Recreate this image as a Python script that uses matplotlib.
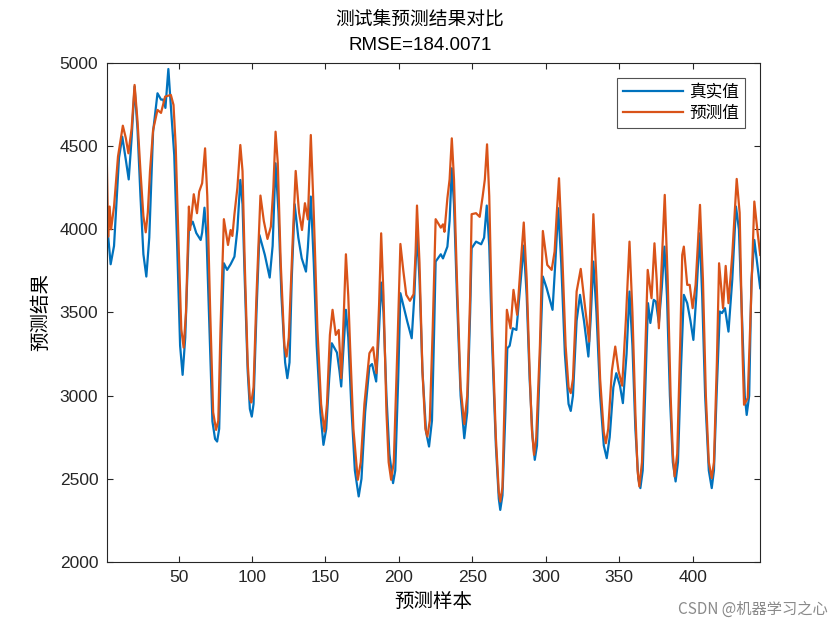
import matplotlib
matplotlib.use("Agg")
import matplotlib.pyplot as plt
import numpy as np

plt.rcParams['font.family'] = ['Noto Sans CJK SC', 'DejaVu Sans']

# 真实值 (sample index, value)
true_x = [1, 3.7, 6, 9.4, 11.6, 14, 16, 18, 20, 22, 24, 26, 28, 30, 32.6, 35.6, 38, 39.5, 41, 43,
          45, 47, 49, 51, 52.7, 54.5, 57, 59.6, 62, 65, 66, 67.6, 69, 71, 73, 74.8, 76.2, 77.6, 79,
          80.8, 83, 85.4, 88, 90, 92, 93.5, 95, 97, 98.5, 99.8, 101, 103, 105, 108.7, 112, 114, 116,
          118, 120, 122.5, 124, 125.5, 127, 129, 131.5, 133.8, 136.7, 138, 140, 142, 144, 146.5,
          148.6, 150.5, 152.5, 154.3, 157.8, 159.5, 160.7, 162, 163.9, 165.5, 167.5, 170, 172.6,
          174.5, 177, 179.9, 181.7, 184.5, 186.5, 187.9, 189.5, 191.5, 193.5, 196, 197.5, 199.5,
          201, 205.7, 208.7, 210.5, 212.3, 214, 216, 218.5, 220.5, 222.5, 224, 225, 228.5, 230,
          233, 234.5, 236, 237.5, 239.5, 242, 244.5, 246.5, 248.5, 249.5, 252.5, 256, 258, 259.8,
          261.5, 263.5, 266, 268, 269, 270.5, 272.5, 273.8, 275.4, 277.6, 280, 282.5, 285, 287,
          289, 291, 292.5, 294, 296, 298, 300.6, 304.6, 306.5, 308.5, 310.5, 313, 315.5, 317,
          318.5, 321, 323.3, 326, 329, 330.5, 332.4, 334.5, 337, 339.5, 341.5, 343.5, 346, 348,
          350.5, 352.5, 355, 357, 359, 361, 363, 364.4, 366, 368, 369.6, 371.2, 373.5, 375, 377,
          379, 380.8, 382.5, 384.5, 386.5, 388.4, 390, 392, 394, 396.3, 398.5, 400.5, 402.5,
          404.8, 406.5, 408.5, 411, 413, 414.5, 416.5, 418.5, 420, 422, 424.4, 427, 429.5, 431.5,
          433.5, 435.5, 436.8, 438.5, 440, 442, 446]
true_y = [4060, 3790, 3900, 4430, 4557, 4420, 4300, 4550, 4858, 4600, 4200, 3850, 3716, 3950,
          4587, 4818, 4780, 4780, 4730, 4964, 4700, 4447, 3900, 3300, 3125, 3350, 4008, 4046,
          3978, 3936, 3980, 4130, 3950, 3400, 2845, 2740, 2724, 2800, 3300, 3796, 3756, 3790,
          3836, 4000, 4297, 4150, 3700, 3150, 2920, 2874, 2950, 3500, 3966, 3846, 3710, 3900,
          4397, 4100, 3600, 3200, 3105, 3200, 3700, 4151, 3950, 3826, 3746, 3890, 4197, 3800,
          3300, 2900, 2704, 2800, 3100, 3315, 3259, 3150, 3055, 3250, 3516, 3350, 2950, 2550,
          2394, 2500, 2900, 3175, 3190, 3085, 3400, 3680, 3500, 3000, 2650, 2474, 2550, 3100,
          3616, 3445, 3345, 3600, 3986, 3700, 3150, 2780, 2694, 2850, 3400, 3806, 3850, 3825,
          3896, 4050, 4367, 4150, 3600, 3000, 2744, 2900, 3500, 3886, 3926, 3910, 3950, 4143,
          3900, 3300, 2700, 2380, 2313, 2400, 2900, 3285, 3300, 3405, 3395, 3650, 3902, 3600,
          3100, 2750, 2614, 2700, 3200, 3716, 3646, 3516, 3800, 4127, 3800, 3250, 2950, 2908,
          3000, 3450, 3606, 3450, 3235, 3450, 3806, 3500, 3000, 2700, 2624, 2750, 3050, 3135,
          3060, 2955, 3250, 3626, 3300, 2800, 2500, 2444, 2550, 3100, 3556, 3437, 3576, 3566,
          3437, 3650, 3896, 3600, 3000, 2600, 2484, 2600, 3150, 3606, 3556, 3450, 3335, 3600,
          3976, 3600, 3000, 2550, 2444, 2550, 3050, 3506, 3496, 3526, 3385, 3700, 4137, 4000,
          3500, 3000, 2884, 3000, 3690, 3936, 3646]

# 预测值 (sample index, value)
pred_x = [1, 2, 3, 4, 6, 8.7, 12, 14, 15.8, 18, 20, 22, 24, 26, 27.6, 29, 30.5, 32.6, 35.6, 38,
          40.8, 44.7, 46.5, 48, 50, 51.8, 53.4, 55, 57, 57.8, 60.3, 62.5, 64, 66, 68, 69.5, 71.5,
          73.5, 75.5, 77, 78.5, 80.8, 83.6, 85.4, 86.6, 88, 90, 92, 93.5, 95, 97, 98.5, 99.5, 101,
          103, 105.7, 108, 110.5, 112.8, 114.5, 116, 117.5, 119.5, 122, 123.5, 125, 127.5, 129.7,
          132, 134, 136, 138, 140, 142, 144.5, 147, 149.3, 151, 153, 154.8, 157, 159, 160.7,
          162.5, 163.9, 165.5, 166.8, 169, 172, 174, 176.5, 179.9, 182.4, 184.7, 186.5, 187.9,
          189.5, 191.5, 193, 194.7, 196.5, 199, 201, 203, 205, 207.5, 210, 211.3, 212.3, 214,
          216, 218, 219.4, 221, 223, 225, 228.5, 230, 231, 233, 234.5, 236, 237.5, 239.5, 242,
          244.5, 246.5, 248.5, 249.5, 252.5, 255, 257, 258.5, 260, 261.5, 263.5, 266, 268, 269,
          270.5, 272, 273.5, 276, 278, 280.5, 283, 285, 287, 289, 290.5, 292, 293.5, 296, 298,
          301, 304, 306, 307.5, 309, 311, 313.5, 315.5, 317, 318.5, 321, 323.8, 326.5, 329.5,
          331, 332.4, 334.5, 337, 339.5, 340.9, 342.5, 345, 347.3, 349.5, 352, 354.5, 357, 359,
          361, 362.5, 363.7, 365.5, 367.5, 369.4, 372, 374, 375.5, 377, 379, 381, 383, 385,
          386.5, 387.7, 389.5, 391.5, 392.9, 394, 396.3, 398, 400, 402, 403.5, 405, 407, 409,
          411, 413, 414.5, 416.5, 418, 420.7, 422.5, 424.4, 427, 430, 432, 434, 435, 437.5,
          439.5, 442, 444, 446]
pred_y = [4467, 3956, 4137, 4000, 4137, 4437, 4623, 4550, 4457, 4607, 4868, 4650, 4350, 4080,
          3982, 4100, 4350, 4597, 4718, 4700, 4798, 4808, 4748, 4500, 3900, 3400, 3289, 3500,
          4137, 3996, 4211, 4097, 4227, 4277, 4487, 4200, 3500, 2900, 2794, 2850, 3400, 4061,
          3906, 3996, 3960, 4091, 4250, 4507, 4350, 3800, 3200, 2980, 2959, 3050, 3600, 4203,
          4050, 3942, 4016, 4250, 4587, 4400, 3800, 3300, 3235, 3350, 3900, 4351, 4100, 3996,
          4157, 4060, 4567, 4100, 3400, 2950, 2784, 2950, 3365, 3516, 3365, 3395, 3105, 3500,
          3850, 3600, 3285, 2800, 2494, 2600, 2950, 3255, 3291, 3135, 3550, 3976, 3600, 2900,
          2600, 2494, 2600, 3300, 3912, 3750, 3606, 3570, 3610, 3850, 4143, 3800, 3150, 2800,
          2754, 2850, 3400, 4061, 4010, 4030, 3985, 4187, 4300, 4547, 4300, 3700, 3050, 2829,
          3000, 3600, 4091, 4097, 4075, 4197, 4300, 4511, 4200, 3400, 2750, 2420, 2363, 2450,
          3000, 3516, 3405, 3636, 3486, 3800, 4041, 3700, 3150, 2800, 2644, 2750, 3300, 3990,
          3786, 3756, 3866, 4100, 4307, 3900, 3300, 3050, 3015, 3100, 3626, 3762, 3550, 3325,
          3700, 4091, 3700, 3100, 2780, 2714, 2800, 3150, 3295, 3150, 3060, 3450, 3926, 3500,
          2900, 2550, 2454, 2600, 3200, 3756, 3586, 3916, 3700, 3405, 3800, 4207, 3700, 3000,
          2650, 2514, 2650, 3300, 3846, 3896, 3666, 3666, 3526, 3666, 3900, 4147, 3700, 3000,
          2600, 2504, 2600, 3200, 3796, 3526, 3780, 3556, 3850, 4303, 4100, 3250, 2945, 2985,
          3500, 4167, 4000, 3846]

x_ticks = [50, 100, 150, 200, 250, 300, 350, 400]
y_ticks = [2000, 2500, 3000, 3500, 4000, 4500, 5000]
rmse = 184.0071

fig = plt.figure(figsize=(8.4, 6.3), dpi=100)
ax = fig.add_axes([0.127, 0.108, 0.778, 0.792])

ax.plot(true_x, true_y, color='#0072BD', linewidth=1.6, label='真实值')
ax.plot(pred_x, pred_y, color='#D95319', linewidth=1.6, label='预测值')

ax.set_xlim(1, 446)
ax.set_ylim(2000, 5000)
ax.set_xticks(x_ticks)
ax.set_yticks(y_ticks)
ax.tick_params(direction='in', top=True, right=True, length=4, width=0.8,
               labelsize=12.5, colors='#262626', pad=6)
for lab in ax.get_xticklabels() + ax.get_yticklabels():
    lab.set_family('Liberation Sans')
for s in ax.spines.values():
    s.set_color('#262626')
    s.set_linewidth(0.8)

ax.set_xlabel('预测样本', fontsize=14, labelpad=4)
ax.set_ylabel('预测结果', fontsize=14, labelpad=6)

# two-line title as separate texts
fig.text(0.5, 0.970, '测试集预测结果对比', ha='center', va='center', fontsize=13.5)
fig.text(0.5, 0.928, 'RMSE=' + str(rmse), ha='center', va='center',
         fontsize=13.5, family='Liberation Sans')

leg = ax.legend(loc='upper right', fontsize=12, frameon=True, fancybox=False, edgecolor='#262626',
                handlelength=3.6, borderpad=0.35, labelspacing=0.25, handletextpad=0.4,
                borderaxespad=0.9)
leg.get_frame().set_linewidth(0.8)

fig.text(0.985, 0.02, 'CSDN @机器学习之心', ha='right', va='bottom', fontsize=11, color='#8a8a8a')

fig.savefig('out.png', dpi=100, facecolor='white')
